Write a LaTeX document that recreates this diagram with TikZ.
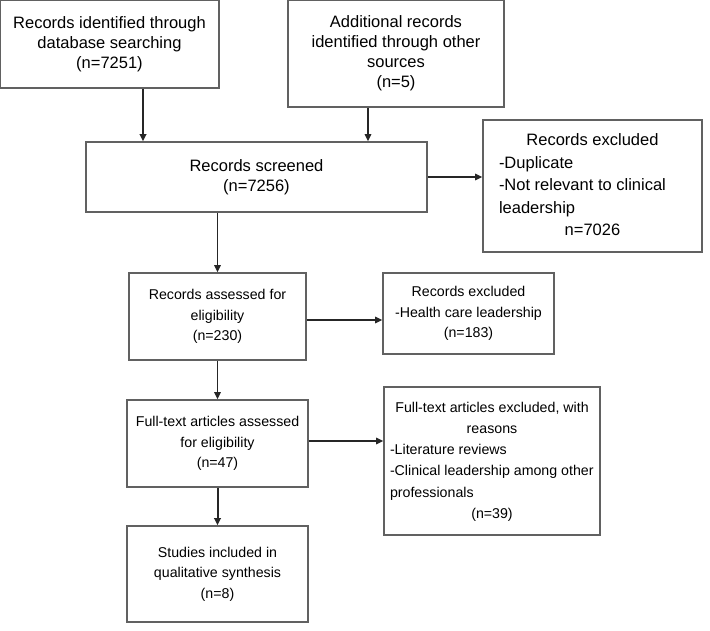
\documentclass[tikz,border=0pt]{standalone}
\usepackage{fontspec}
\setmainfont{Liberation Sans}
\usetikzlibrary{arrows.meta}
\newcommand{\midline}[1]{\multicolumn{1}{@{}c@{}}{#1}}
\tikzset{
  stagebox/.style={draw=black!62, line width=1.6pt, rectangle, inner sep=0pt, align=center},
  flowarrow/.style={-{Triangle[length=7pt,width=6.5pt]}, line width=1.4pt, draw=black!85},
  toprow/.style={font=\fontsize{16.5}{20}\selectfont},
  lowrow/.style={font=\fontsize{14.2}{20.5}\selectfont},
}
\begin{document}
\begin{tikzpicture}[x=1pt,y=-1pt]
		\useasboundingbox (0,0) rectangle (710,630);
		% identification
		\node[stagebox,toprow,minimum width=219pt,minimum height=88pt] (ident) at (109.5,44) {Records identified through\\database searching\\(n=7251)};
		\node[stagebox,toprow,minimum width=216pt,minimum height=107pt] (other) at (396,53.5) {Additional records\\identified through other\\sources\\(n=5)};
		% screening
		\node[stagebox,toprow,minimum width=341pt,minimum height=70pt] (screen) at (256.5,177) {Records screened\\(n=7256)};
		\node[stagebox,font=\fontsize{16.5}{22.5}\selectfont,minimum width=219pt,minimum height=132pt] (exclA) at (592.5,186) {\begin{tabular}{@{}p{187pt}@{}}\midline{Records excluded}\\-Duplicate\\-Not relevant to clinical\\leadership\\\midline{n=7026}\end{tabular}};
		% eligibility
		\node[stagebox,lowrow,minimum width=177pt,minimum height=87pt] (assess) at (217.5,316.5) {Records assessed for\\eligibility\\(n=230)};
		\node[stagebox,lowrow,minimum width=171pt,minimum height=81pt] (exclB) at (468.5,313.5) {Records excluded\\-Health care leadership\\(n=183)};
		\node[stagebox,lowrow,minimum width=181pt,minimum height=87pt] (fulltext) at (217.5,443.5) {Full-text articles assessed\\for eligibility\\(n=47)};
		\node[stagebox,font=\fontsize{14.2}{21.2}\selectfont,minimum width=216pt,minimum height=148pt] (exclC) at (492,461) {\raisebox{5pt}{\begin{tabular}{@{}p{204pt}@{}}\midline{Full-text articles excluded, with}\\\midline{reasons}\\-Literature reviews\\-Clinical leadership among other\\professionals\\\midline{(n=39)}\end{tabular}}};
		% included
		\node[stagebox,lowrow,minimum width=181pt,minimum height=96pt] (included) at (217.5,574) {Studies included in\\qualitative synthesis\\(n=8)};
		% arrows
		\draw[flowarrow,line width=2pt] ([xshift=33.5pt]ident.south) -- ([xshift=33.5pt]ident.south |- screen.north);
		\draw[flowarrow] ([xshift=-28pt]other.south) -- ([xshift=-28pt]other.south |- screen.north);
		\draw[flowarrow] (screen.east) -- (screen.east -| exclA.west);
		\draw[flowarrow] (screen.south -| assess.north) -- (assess.north);
		\draw[flowarrow] ([yshift=-3.5pt]assess.east) -- ([yshift=-3.5pt]assess.east -| exclB.west);
		\draw[flowarrow] (assess.south) -- (fulltext.north);
		\draw[flowarrow] ([yshift=2.5pt]fulltext.east) -- ([yshift=2.5pt]fulltext.east -| exclC.west);
		\draw[flowarrow,line width=2pt] (fulltext.south) -- (included.north);
\end{tikzpicture}
\end{document}
